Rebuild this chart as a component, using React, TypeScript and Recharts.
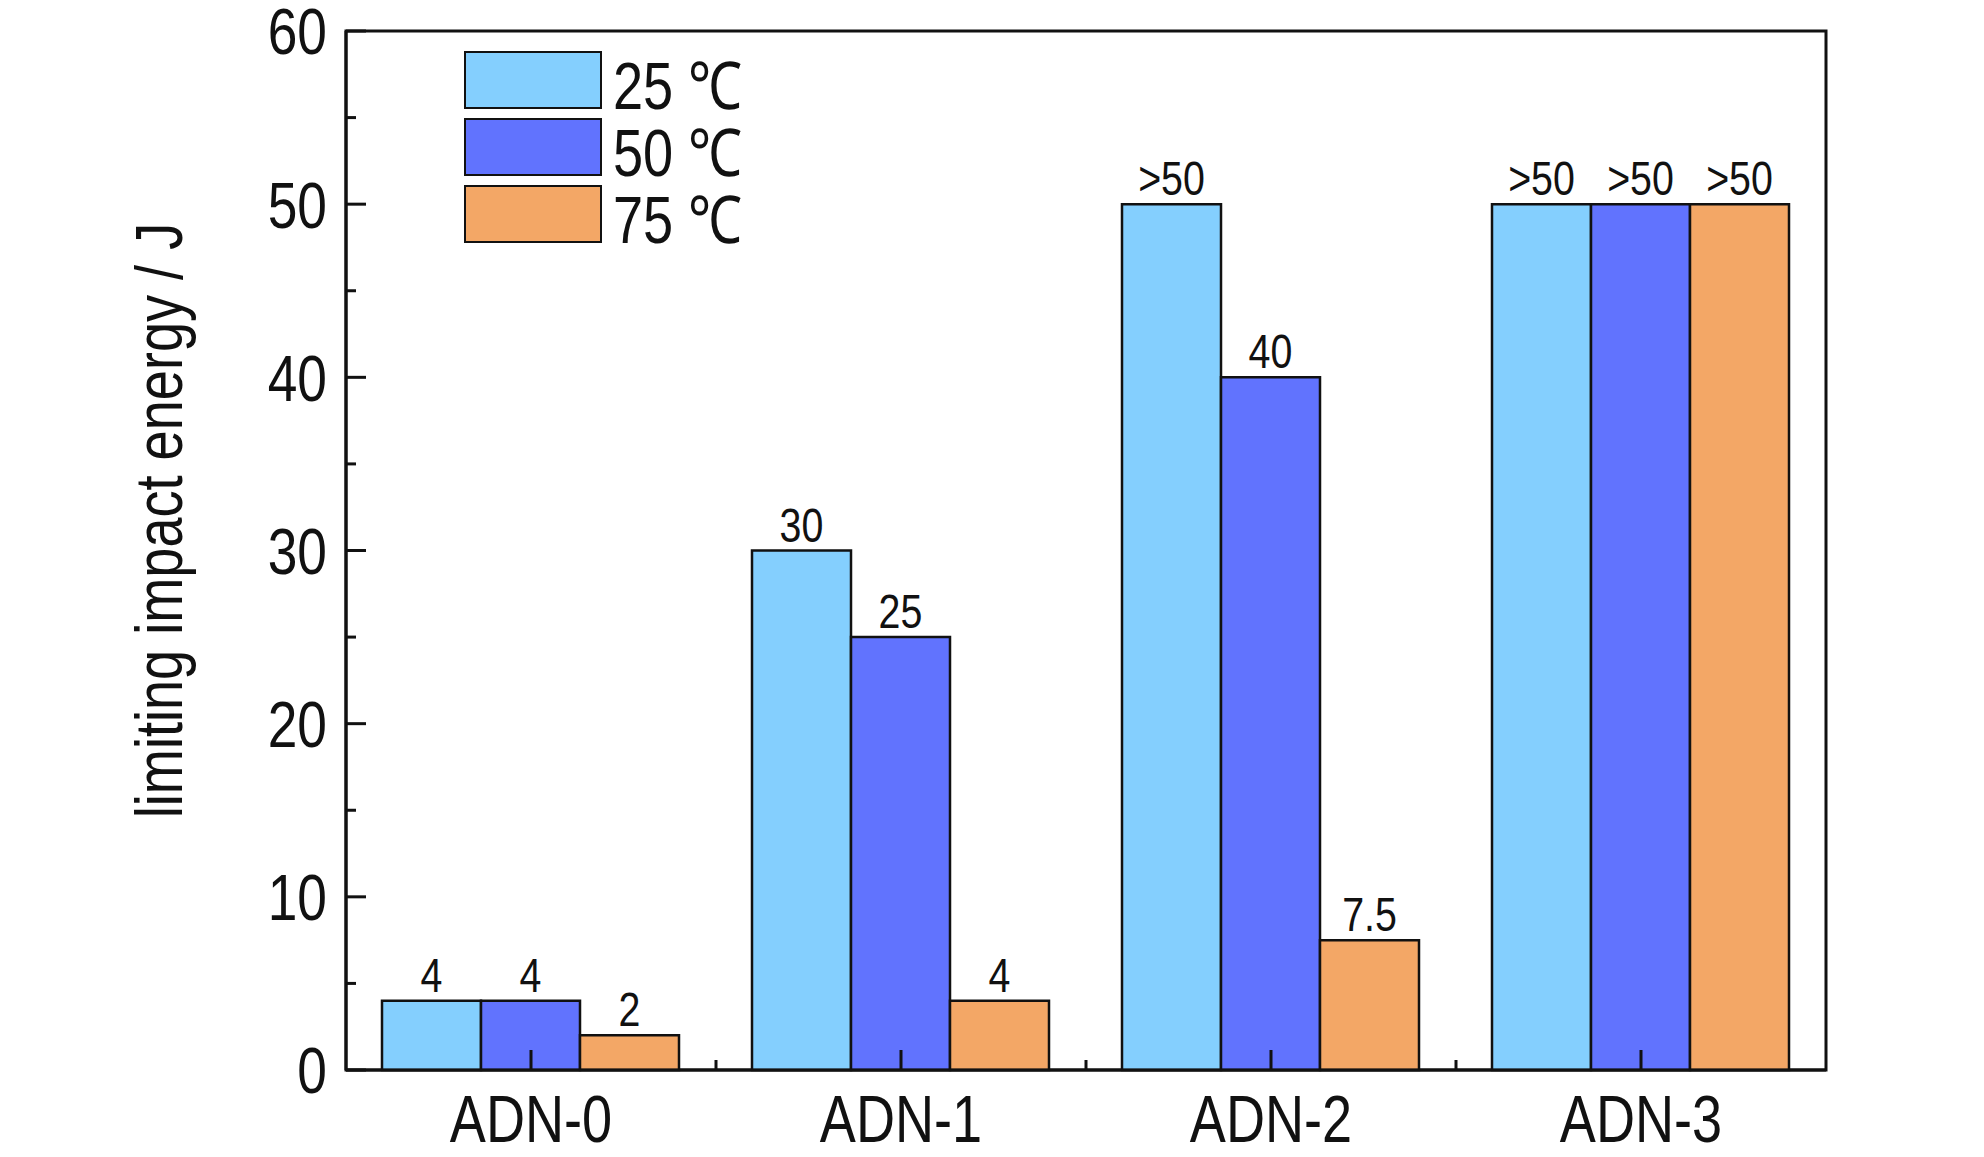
import { BarChart, Bar, XAxis, YAxis, Legend, LabelList, ReferenceArea } from "recharts";

const categories = ["ADN-0", "ADN-1", "ADN-2", "ADN-3"];
const seriesNames = ["25 ℃", "50 ℃", "75 ℃"];
const energy25 = [4, 30, 50, 50];
const energy50 = [4, 25, 40, 50];
const energy75 = [2, 4, 7.5, 50];
const labels25 = ["4", "30", ">50", ">50"];
const labels50 = ["4", "25", "40", ">50"];
const labels75 = ["2", "4", "7.5", ">50"];
const yTicks = [0, 5, 10, 15, 20, 25, 30, 35, 40, 45, 50, 55, 60];
const yTitle = "limiting impact energy / J";

const colors = ["#84CFFE", "#6173FE", "#F3A766"];
const FONT = "'Liberation Sans', Arial, sans-serif";
const NARROW = 0.82;

const W = 1984;
const H = 1157;
const margin = { top: 31, right: 158, bottom: 0, left: 0 };
const Y_AXIS_W = 346;
const plotW = W - margin.left - margin.right - Y_AXIS_W;

const rows = categories.map((name, i) => ({
  name,
  t25: energy25[i],
  t50: energy50[i],
  t75: energy75[i],
  l25: labels25[i],
  l50: labels50[i],
  l75: labels75[i],
}));

// condensed text (Arial Narrow look) made by squeezing Liberation Sans
function NText({ x, y, size, anchor = "middle", dy, rotate = false, children }: any) {
  return (
    <g transform={`translate(${x} ${y})${rotate ? " rotate(-90)" : ""} scale(${NARROW} 1)`}>
      <text x={0} y={0} dy={dy} textAnchor={anchor} fontSize={size} fontFamily={FONT} fill="#111">
        {children}
      </text>
    </g>
  );
}

function YTick({ x, y, payload }: any) {
  const v = payload.value;
  const major = v % 10 === 0;
  return (
    <g>
      <line x1={x} x2={x + (major ? 20 : 10)} y1={y} y2={y} stroke="#111" strokeWidth={3} />
      {major && (
        <NText x={x - 19} y={y} dy="0.36em" anchor="end" size={65}>
          {v}
        </NText>
      )}
    </g>
  );
}

function XTick({ x, y, payload, index }: any) {
  const step = plotW / categories.length;
  return (
    <g>
      <line x1={x} x2={x} y1={y} y2={y - 20} stroke="#111" strokeWidth={3} />
      {index < categories.length - 1 && (
        <line x1={x + step / 2} x2={x + step / 2} y1={y} y2={y - 10} stroke="#111" strokeWidth={3} />
      )}
      <NText x={x} y={y + 25} dy="0.71em" size={66}>
        {payload.value}
      </NText>
    </g>
  );
}

function YLabel({ viewBox }: any) {
  const cx = viewBox.x + 182;
  const cy = viewBox.y + viewBox.height / 2 - 30;
  return (
    <NText x={cx} y={cy} size={66} rotate>
      {yTitle}
    </NText>
  );
}

function BarLabel(props: any) {
  const vb = props.viewBox && props.viewBox.width !== undefined ? props.viewBox : props;
  return (
    <NText x={vb.x + vb.width / 2} y={vb.y - 9} size={48}>
      {props.value}
    </NText>
  );
}

function LegendBox({ payload }: any) {
  return (
    <div style={{ display: "flex", flexDirection: "column", gap: 9 }}>
      {(payload || []).map((e: any) => (
        <div key={e.value} style={{ display: "flex", alignItems: "center", height: 58 }}>
          <div
            style={{
              width: 138,
              height: 58,
              boxSizing: "border-box",
              background: e.color,
              border: "2.5px solid #111",
            }}
          />
          <span
            style={{
              display: "inline-block",
              marginLeft: 11,
              fontSize: 66,
              lineHeight: "58px",
              fontFamily: FONT,
              color: "#111",
              position: "relative",
              top: 6,
              whiteSpace: "nowrap",
              transform: `scaleX(${NARROW})`,
              transformOrigin: "left center",
            }}
          >
            {e.value}
          </span>
        </div>
      ))}
    </div>
  );
}

export default function App() {
  return (
    <div style={{ position: "absolute", left: 0, top: 0, background: "#fff" }}>
      <BarChart width={W} height={H} data={rows} margin={margin} barCategoryGap={36} barGap={0}>
        <XAxis
          dataKey="name"
          height={87}
          interval={0}
          tickSize={0}
          tickMargin={0}
          tickLine={false}
          axisLine={{ stroke: "#111", strokeWidth: 3 }}
          tick={<XTick />}
        />
        <YAxis
          width={Y_AXIS_W}
          domain={[0, 60]}
          ticks={yTicks}
          interval={0}
          tickSize={0}
          tickMargin={0}
          tickLine={false}
          axisLine={{ stroke: "#111", strokeWidth: 3 }}
          tick={<YTick />}
          label={(props: any) => <YLabel {...props} />}
        />
        <Legend
          layout="vertical"
          align="center"
          verticalAlign="middle"
          content={<LegendBox />}
          wrapperStyle={{ left: 464, top: 51 }}
        />
        <Bar dataKey="t25" name={seriesNames[0]} fill={colors[0]} stroke="#111" strokeWidth={2.5} isAnimationActive={false}>
          <LabelList dataKey="l25" content={BarLabel} />
        </Bar>
        <Bar dataKey="t50" name={seriesNames[1]} fill={colors[1]} stroke="#111" strokeWidth={2.5} isAnimationActive={false}>
          <LabelList dataKey="l50" content={BarLabel} />
        </Bar>
        <Bar dataKey="t75" name={seriesNames[2]} fill={colors[2]} stroke="#111" strokeWidth={2.5} isAnimationActive={false}>
          <LabelList dataKey="l75" content={BarLabel} />
        </Bar>
        <ReferenceArea
          x1={categories[0]}
          x2={categories[categories.length - 1]}
          y1={0}
          y2={60}
          fill="none"
          fillOpacity={0}
          stroke="#111"
          strokeWidth={3}
        />
      </BarChart>
    </div>
  );
}
